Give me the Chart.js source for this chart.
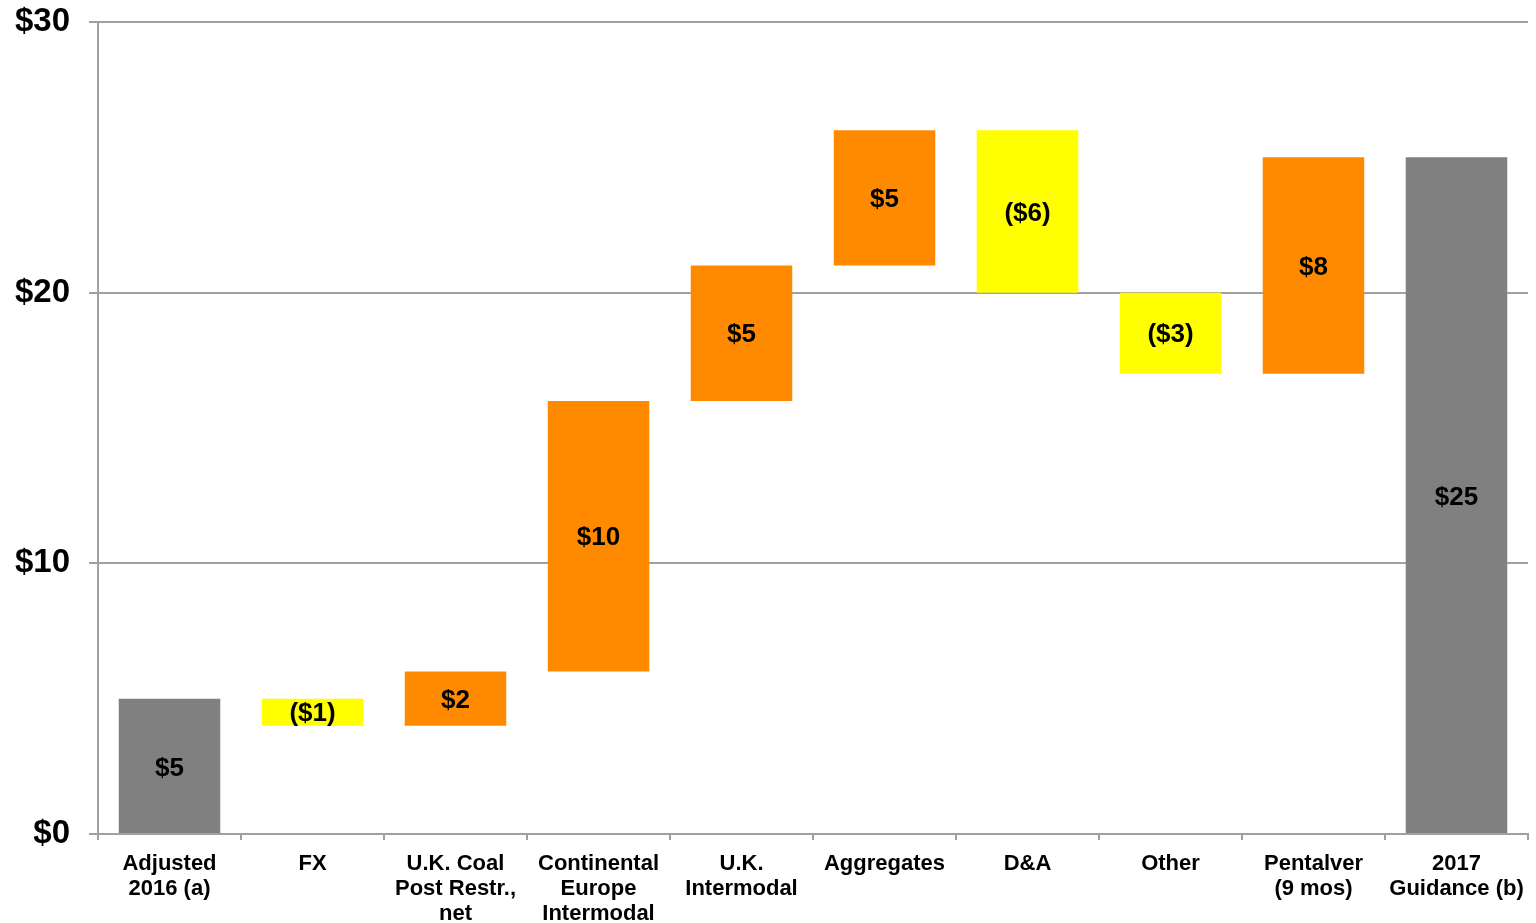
<!DOCTYPE html>
<html>
<head>
<meta charset="utf-8">
<script src="https://cdn.jsdelivr.net/npm/chart.js@4/dist/chart.umd.min.js"></script>
<style>
  html, body { margin: 0; padding: 0; background: #ffffff; }
  #wrap { width: 1536px; height: 923px; }
</style>
</head>
<body>
<div id="wrap"><canvas id="chart" width="1536" height="923"></canvas></div>
<script>
// Bridge categories (multi-line axis labels)
const categories = [
  ['Adjusted', '2016 (a)'],
  ['FX'],
  ['U.K. Coal', 'Post Restr.,', 'net'],
  ['Continental', 'Europe', 'Intermodal'],
  ['U.K.', 'Intermodal'],
  ['Aggregates'],
  ['D&A'],
  ['Other'],
  ['Pentalver', '(9 mos)'],
  ['2017', 'Guidance (b)']
];

// Amount for each step ($); first and last are totals, the rest are changes
const amounts = [5, -1, 2, 10, 5, 5, -6, -3, 8, 25];
const isTotal = [true, false, false, false, false, false, false, false, false, true];

// Y axis ticks
const yTicks = [0, 10, 20, 30];

const GRAY = '#808080';
const ORANGE = '#FF8A00';
const YELLOW = '#FFFF00';
const AXIS = '#a0a0a0';

// Build floating [low, high] ranges for the bridge
const ranges = [];
let running = 0;
amounts.forEach((v, i) => {
  if (isTotal[i]) {
    ranges.push([0, v]);
    running = v;
  } else {
    ranges.push([running, running + v]);
    running += v;
  }
});
const colors = amounts.map((v, i) => isTotal[i] ? GRAY : (v >= 0 ? ORANGE : YELLOW));
const fmt = v => v < 0 ? '($' + Math.abs(v) + ')' : '$' + v;

// Value labels centred in each bar
const barLabels = {
  id: 'barLabels',
  afterDatasetsDraw(chart) {
    const ctx = chart.ctx;
    const meta = chart.getDatasetMeta(0);
    const ys = chart.scales.y;
    ctx.save();
    ctx.font = 'bold 26px "Liberation Sans", Arial, sans-serif';
    ctx.fillStyle = '#000000';
    ctx.textAlign = 'center';
    ctx.textBaseline = 'middle';
    meta.data.forEach((bar, i) => {
      const r = ranges[i];
      const yMid = (ys.getPixelForValue(r[0]) + ys.getPixelForValue(r[1])) / 2;
      ctx.fillText(fmt(amounts[i]), bar.x, yMid + 2);
    });
    ctx.restore();
  }
};

new Chart(document.getElementById('chart'), {
  type: 'bar',
  data: {
    labels: categories,
    datasets: [{
      data: ranges,
      backgroundColor: colors,
      borderWidth: 0,
      barPercentage: 0.71,
      categoryPercentage: 1.0
    }]
  },
  options: {
    responsive: false,
    animation: false,
    layout: { padding: { top: 0, right: 8, left: 0, bottom: 0 } },
    plugins: {
      legend: { display: false },
      tooltip: { enabled: false }
    },
    scales: {
      x: {
        grid: {
          display: true,
          offset: true,
          drawOnChartArea: false,
          drawTicks: true,
          tickLength: 6,
          color: AXIS,
          lineWidth: 2
        },
        border: { display: true, color: AXIS, width: 2 },
        ticks: {
          color: '#000000',
          maxRotation: 0,
          autoSkip: false,
          padding: 11,
          font: { family: '"Liberation Sans", Arial, sans-serif', size: 22, weight: 'bold', lineHeight: 1.15 }
        },
        afterFit(scale) { scale.height = 89; }
      },
      y: {
        min: 0,
        max: 30,
        afterBuildTicks(scale) { scale.ticks = yTicks.map(v => ({ value: v })); },
        grid: {
          color: AXIS,
          lineWidth: 2,
          drawTicks: true,
          tickLength: 9
        },
        border: { display: true, color: AXIS, width: 2 },
        ticks: {
          color: '#000000',
          padding: 19,
          callback: v => '$' + v,
          font: { family: '"Liberation Sans", Arial, sans-serif', size: 33, weight: 'bold' }
        },
        afterFit(scale) {
          scale.width = 98;
          scale.paddingTop = 22;
          scale.paddingBottom = 0;
        }
      }
    }
  },
  plugins: [barLabels]
});
</script>
</body>
</html>
